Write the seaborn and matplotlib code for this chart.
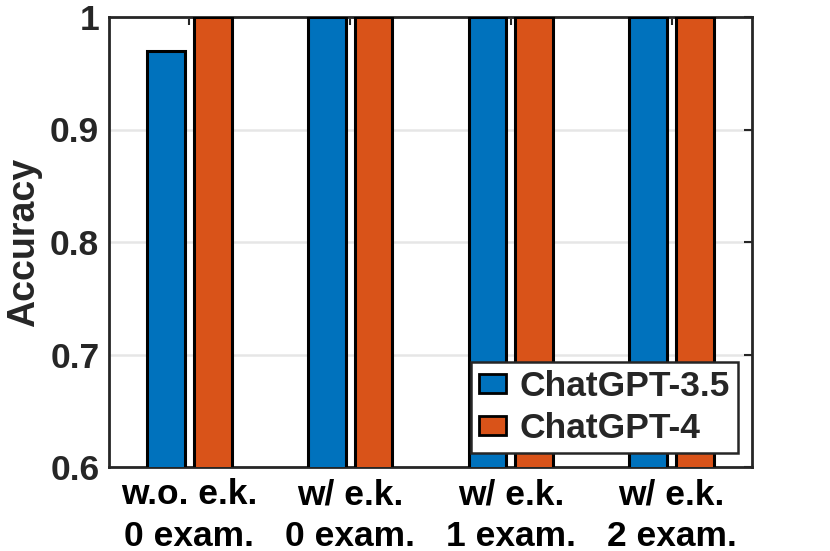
import numpy as np
import pandas as pd
import matplotlib
matplotlib.use("Agg")
import matplotlib.pyplot as plt
import seaborn as sns

categories = ["w.o. e.k.\n0 exam.", "w/ e.k.\n0 exam.", "w/ e.k.\n1 exam.", "w/ e.k.\n2 exam."]
models = ["ChatGPT-3.5", "ChatGPT-4"]
acc_gpt35 = [0.97, 1.0, 1.0, 1.0]
acc_gpt4 = [1.0, 1.0, 1.0, 1.0]
yticks = [0.6, 0.7, 0.8, 0.9, 1.0]
ytick_labels = ["0.6", "0.7", "0.8", "0.9", "1"]

df = pd.DataFrame({
    "setting": categories * 2,
    "model": [models[0]] * 4 + [models[1]] * 4,
    "accuracy": acc_gpt35 + acc_gpt4,
})

sns.set_style("white")
plt.rcParams["font.family"] = ["Liberation Sans", "DejaVu Sans"]
plt.rcParams["font.weight"] = "bold"

fig = plt.figure(figsize=(8.3, 5.51), dpi=100)
ax = fig.add_axes([109 / 830, 1 - 467 / 551, 643 / 830, 450 / 551])

sns.barplot(data=df, x="setting", y="accuracy", hue="model",
            palette=["#0072BD", "#D95319"], saturation=1, width=0.58, gap=0.19,
            edgecolor="black", linewidth=2.2, ax=ax, zorder=3)

ax.set_ylim(0.6, 1.0)
ax.set_xlim(-0.5, 3.5)
ax.set_yticks(yticks)
ax.set_yticklabels(ytick_labels)
ax.yaxis.grid(True, color="#e6e6e6", linewidth=1.8, zorder=0)
ax.set_axisbelow(True)
ax.set_xlabel("")
ax.set_ylabel("Accuracy", fontsize=27, fontweight="bold", labelpad=6, color="#262626")
ax.tick_params(axis="both", direction="in", length=6, width=1.5,
               labelsize=25.5, top=True, right=True, color="#262626")
ax.tick_params(axis="x", pad=8, labelcolor="black")
ax.tick_params(axis="y", pad=7, labelcolor="#262626")
for lab in ax.get_xticklabels() + ax.get_yticklabels():
    lab.set_fontweight("bold")
    lab.set_linespacing(1.35)
for sp in ax.spines.values():
    sp.set_linewidth(2)
    sp.set_color("#262626")

leg = ax.legend(loc="lower right", fontsize=25.5, frameon=True, fancybox=False,
                framealpha=1, borderaxespad=0.4, handlelength=0.75, handleheight=0.45,
                handletextpad=0.4, borderpad=0.22, labelspacing=0.25)
leg.get_frame().set_edgecolor("#262626")
leg.get_frame().set_linewidth(1.8)
for t in leg.get_texts():
    t.set_fontweight("bold")
for h in leg.legend_handles:
    h.set_linewidth(2)

fig.savefig("out.png", dpi=100)
